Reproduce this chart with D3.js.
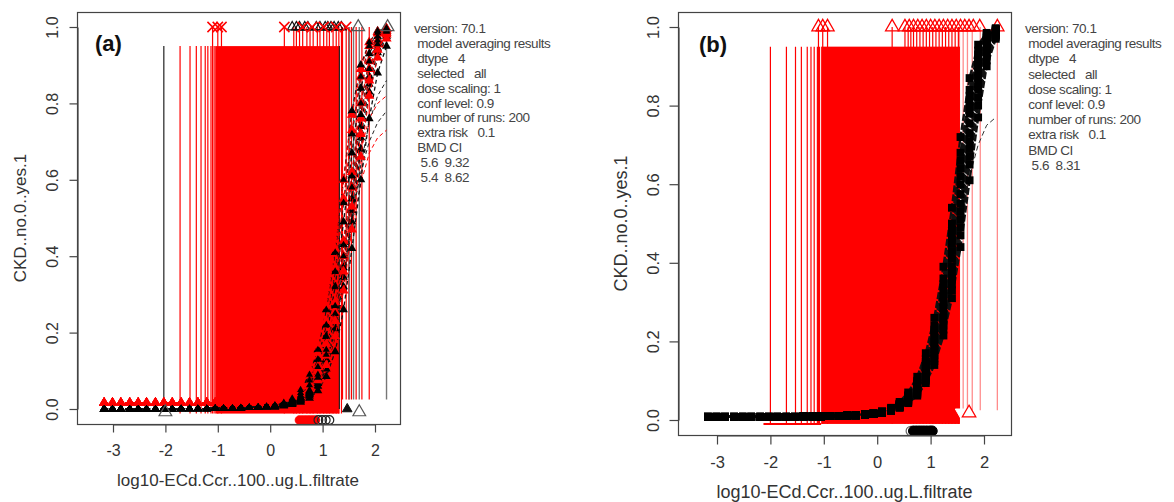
<!DOCTYPE html>
<html><head><meta charset="utf-8">
<script src="https://cdn.jsdelivr.net/npm/d3@7"></script>
<style>body{margin:0;background:#fff} svg{display:block}</style>
</head><body>
<svg id="c" width="1174" height="502"></svg>
<script>
// ---------- shared data ----------
const doseGrid = [-3.17,-3.01,-2.85,-2.68,-2.52,-2.36,-2.19,-2.03,-1.87,-1.70,-1.54,-1.38,-1.21,-1.05,-0.89,-0.72,-0.56,-0.40,-0.23,-0.07,0.09,0.26,0.42,0.58,0.75,0.91,1.07,1.24,1.40,1.56,1.73,1.89,2.05,2.22];
const xTicks = [-3,-2,-1,0,1,2];
const yTicks = [0,0.2,0.4,0.6,0.8,1.0];
const yTickLabels = ["0.0","0.2","0.4","0.6","0.8","1.0"];
const xTitle = "log10-ECd.Ccr..100..ug.L.filtrate";
const yTitle = "CKD..no.0..yes.1";
const panelLabels = ["(a)","(b)"];
const infoA = ["version: 70.1"," model averaging results"," dtype   4"," selected   all"," dose scaling: 1"," conf level: 0.9"," number of runs: 200"," extra risk   0.1"," BMD CI","  5.6  9.32","  5.4  8.62"];
const infoB = ["version: 70.1"," model averaging results"," dtype   4"," selected   all"," dose scaling: 1"," conf level: 0.9"," number of runs: 200"," extra risk   0.1"," BMD CI","  5.6  8.31"];

// ---------- panel (a) data ----------
const barRangeA = [-0.012, 0.95];
const sparseRedA = [-1.72,-1.53,-1.41,-1.32,-1.24,-1.19,-1.13,-1.07];
const denseRedA = [-1.05, 1.32];
const tallRedA = [-1.1,-1.0,-0.93,0.27,0.45,0.5,0.56,0.62,0.7,0.76,0.82,0.9,0.95,1.02,1.08,1.13,1.2,1.26,1.31,1.36];
const rightRedA = [1.38,1.45,1.5,1.55,1.64,1.75,1.89];
const blackLinesA = [-2.03, 1.32];
const grayLinesA = [1.51,1.59,1.70,2.22];
const topRedXA = [-1.1,-1.0,-0.93,0.27,0.62,0.8,1.02,1.26,1.45];
const topBlackA = [0.42,0.5,0.56,0.66,0.72,0.88,0.95,1.05,1.1,1.16,1.22,1.3,1.36];
const topGrayTriA = [1.68,2.24];
const bmdRedA = [0.56,0.62,0.68,0.74,0.8,0.86];
const bmdBlackA = [0.92,0.99,1.06,1.13];
const lowGrayTriA = [-2.0,1.70];
const lowBlackTriA = [1.47];
const lowDoseBlackA = [0,0,0,0,0,0,0,0,0,0.001,0.001,0.001,0.001,0.002,0.002,0.002,0.003,0.004,0.005,0.006];
const lowDoseRedA = [0.016,0.016,0.016,0.016,0.016,0.016,0.016,0.016,0.016,0.016,0.016,0.016,0.016,0.016,0.017,0.017,0.018,0.019,0.02,0.022];
const blackRunsA = [
  [0.01,0.017,0.028,0.05,0.09,0.155,0.26,0.41,0.6,0.78,0.9,0.96,0.99,0.997],
  [0.009,0.015,0.024,0.042,0.075,0.13,0.22,0.36,0.54,0.72,0.87,0.95,0.985,0.995],
  [0.008,0.013,0.021,0.036,0.062,0.11,0.19,0.32,0.49,0.67,0.84,0.93,0.975,0.993],
  [0.008,0.012,0.018,0.03,0.05,0.09,0.155,0.27,0.43,0.61,0.80,0.91,0.965,0.99],
  [0.0075,0.0115,0.017,0.0275,0.046,0.082,0.142,0.25,0.4,0.58,0.77,0.89,0.955,0.988],
  [0.007,0.011,0.016,0.025,0.042,0.075,0.13,0.23,0.37,0.55,0.74,0.87,0.945,0.985],
  [0.0065,0.0105,0.015,0.023,0.038,0.067,0.117,0.21,0.345,0.52,0.71,0.85,0.933,0.98],
  [0.006,0.01,0.014,0.021,0.034,0.06,0.105,0.19,0.32,0.49,0.68,0.83,0.92,0.975],
  [0.005,0.008,0.012,0.018,0.028,0.048,0.085,0.15,0.26,0.42,0.6,0.76,0.88,0.95]
];
const redRunsA = [
  [0.027,0.034,0.046,0.068,0.105,0.17,0.27,0.42,0.6,0.77,0.89,0.96,0.987,0.996],
  [0.026,0.032,0.042,0.06,0.09,0.145,0.23,0.37,0.55,0.73,0.87,0.95,0.983,0.995],
  [0.025,0.03,0.037,0.05,0.07,0.11,0.17,0.28,0.44,0.62,0.8,0.91,0.965,0.99],
  [0.024,0.029,0.036,0.047,0.065,0.1,0.155,0.255,0.4,0.58,0.76,0.89,0.955,0.985],
  [0.024,0.028,0.034,0.044,0.06,0.09,0.14,0.23,0.36,0.53,0.72,0.86,0.94,0.98],
  [0.023,0.027,0.032,0.04,0.052,0.075,0.115,0.19,0.31,0.47,0.66,0.82,0.92,0.97]
];
const plateauRedA = [
  [0.024,0.03,0.038,0.05,0.07,0.1,0.15,0.23,0.34,0.47,0.59,0.67,0.71,0.73],
  [0.024,0.03,0.04,0.055,0.08,0.12,0.18,0.28,0.41,0.55,0.68,0.76,0.8,0.82]
];
const plateauBlackA = [
  [0.006,0.01,0.016,0.026,0.045,0.08,0.14,0.24,0.37,0.5,0.62,0.7,0.75,0.78],
  [0.006,0.01,0.015,0.024,0.04,0.07,0.12,0.21,0.34,0.49,0.64,0.75,0.82,0.86]
];

// ---------- panel (b) data ----------
const barRangeB = [-0.01, 0.95];
const baseRedB = [-2.13, -1.05];
const sparseRedB = [-2.0,-1.7,-1.53,-1.42,-1.31,-1.24,-1.18,-1.12,-1.08];
const denseRedB = [-1.05, 1.55];
const tallRedB = [-1.1,-1.02,-0.93,0.28,0.52,0.58,0.63,0.68,0.74,0.8,0.86,0.92,0.98,1.04,1.1,1.16,1.22,1.28,1.34,1.4,1.46,1.52];
const topTriB = [-1.1,-1.02,-0.93,0.28,0.52,0.6,0.68,0.76,0.84,0.92,1.0,1.08,1.16,1.24,1.32,1.4,1.48,1.56,1.64,1.72,1.8,1.92,2.25];
const pinkLinesB = [1.54,1.61,1.69,1.78,1.93,2.25];
const bmdBlackB = [0.68,0.74,0.8,0.86,0.92,0.98,1.03];
const bmdGrayB = [0.63];
const lowWhiteTriB = [1.59];
const lowRedTriB = [1.72];
const lowDoseB = [0.008,0.008,0.008,0.008,0.008,0.008,0.008,0.008,0.008,0.008,0.008,0.009,0.009,0.009,0.010,0.010,0.011,0.012,0.014,0.016];
const blackRunsB = [
  [0.022,0.031,0.046,0.07,0.11,0.17,0.26,0.39,0.54,0.72,0.87,0.955,0.985,0.997],
  [0.021,0.029,0.042,0.063,0.1,0.155,0.24,0.36,0.5,0.68,0.84,0.94,0.98,0.995],
  [0.021,0.0285,0.041,0.061,0.096,0.148,0.23,0.345,0.483,0.66,0.825,0.93,0.976,0.994],
  [0.021,0.028,0.04,0.059,0.092,0.142,0.22,0.33,0.465,0.64,0.81,0.92,0.972,0.993],
  [0.02,0.027,0.039,0.057,0.088,0.136,0.21,0.315,0.45,0.62,0.795,0.91,0.968,0.991],
  [0.02,0.027,0.038,0.055,0.085,0.13,0.2,0.3,0.43,0.6,0.78,0.9,0.965,0.99],
  [0.019,0.026,0.037,0.053,0.081,0.125,0.19,0.285,0.41,0.575,0.755,0.885,0.957,0.988],
  [0.019,0.026,0.036,0.051,0.078,0.12,0.18,0.27,0.39,0.55,0.73,0.87,0.95,0.985],
  [0.019,0.0255,0.035,0.0495,0.075,0.115,0.172,0.26,0.375,0.53,0.71,0.855,0.942,0.983],
  [0.019,0.025,0.034,0.048,0.072,0.11,0.165,0.25,0.36,0.51,0.69,0.84,0.935,0.98],
  [0.0185,0.0245,0.033,0.0465,0.069,0.105,0.157,0.24,0.345,0.49,0.67,0.82,0.925,0.978],
  [0.018,0.024,0.032,0.045,0.066,0.1,0.15,0.23,0.33,0.47,0.65,0.8,0.915,0.975],
  [0.018,0.023,0.031,0.043,0.062,0.094,0.14,0.215,0.31,0.44,0.61,0.77,0.9,0.97]
];
const plateauB = [
  [0.02,0.027,0.037,0.053,0.08,0.12,0.18,0.27,0.38,0.5,0.62,0.7,0.75,0.77]
];

// ---------- drawing ----------
const svg = d3.select("#c");
const RED = "#ff0000";
const symTimes = d3.symbolTimes || d3.symbolX || d3.symbolCross;

function toPts(low, run) {
  const ys = low.concat(run);
  return doseGrid.map((d, i) => [d, ys[i]]);
}

function drawPanel(cfg, idx) {
  const x = d3.scaleLinear().domain([-3, 2]).range(cfg.xr);
  const y = d3.scaleLinear().domain([0, 1]).range(cfg.yr);
  const g = svg.append("g");
  const clipId = "clip" + idx;
  svg.append("clipPath").attr("id", clipId).append("rect")
    .attr("x", cfg.box[0]).attr("y", cfg.box[1])
    .attr("width", cfg.box[2] - cfg.box[0]).attr("height", cfg.box[3] - cfg.box[1]);
  const p = g.append("g").attr("clip-path", `url(#${clipId})`);

  const vlines = (xs, y0, y1, color, w, op) => {
    p.append("g").selectAll("line").data(xs).join("line")
      .attr("x1", d => x(d)).attr("x2", d => x(d))
      .attr("y1", y(y0)).attr("y2", y(y1))
      .attr("stroke", color).attr("stroke-width", w || 1)
      .attr("stroke-opacity", op == null ? 1 : op);
  };
  const symbols = (xs, yv, type, size, fill, stroke, sw, rot) => {
    p.append("g").selectAll("path").data(xs).join("path")
      .attr("d", d3.symbol().type(type).size(size))
      .attr("transform", d => `translate(${x(d)},${y(yv)})` + (rot ? ` rotate(${rot})` : ""))
      .attr("fill", fill).attr("stroke", stroke).attr("stroke-width", sw || 1);
  };
  const line = d3.line().x(d => x(d[0])).y(d => y(d[1]));
  const curves = (runs, low, color, dash, w) => {
    p.append("g").selectAll("path").data(runs).join("path")
      .attr("d", r => line(toPts(low, r)))
      .attr("fill", "none").attr("stroke", color).attr("stroke-width", w || 1)
      .attr("stroke-dasharray", dash);
  };
  const runMarkers = (runs, low, type, size, fill) => {
    runs.forEach(r => {
      p.append("g").selectAll("path").data(toPts(low, r)).join("path")
        .attr("d", d3.symbol().type(type).size(size))
        .attr("transform", d => `translate(${x(d[0])},${y(d[1])})`)
        .attr("fill", fill);
    });
  };

  cfg.drawMarks({x, y, p, vlines, symbols, curves, runMarkers});

  // box
  g.append("rect").attr("x", cfg.box[0] + 0.5).attr("y", cfg.box[1] + 0.5)
    .attr("width", cfg.box[2] - cfg.box[0]).attr("height", cfg.box[3] - cfg.box[1])
    .attr("fill", "none").attr("stroke", "#444").attr("stroke-width", 1.2);

  // x axis
  const xa = g.append("g").attr("transform", `translate(0,${cfg.box[3] + 0.5})`)
    .call(d3.axisBottom(x).tickValues(xTicks).tickSize(cfg.tick).tickSizeOuter(0).tickFormat(d => String(d)));
  xa.select(".domain").attr("stroke", "#444").attr("stroke-width", 1.2);
  xa.selectAll(".tick line").attr("stroke", "#444").attr("stroke-width", 1.2);
  xa.selectAll(".tick text").attr("y", cfg.xLabOff).attr("dy", "0.35em")
    .attr("font-family", "Liberation Sans, Arial, sans-serif").attr("font-size", cfg.tickFont).attr("fill", "#333");

  // y axis
  const ya = g.append("g").attr("transform", `translate(${cfg.box[0] + 0.5},0)`)
    .call(d3.axisLeft(y).tickValues(yTicks).tickSize(cfg.tick).tickSizeOuter(0).tickFormat((d, i) => yTickLabels[i]));
  ya.select(".domain").attr("stroke", "#444").attr("stroke-width", 1.2);
  ya.selectAll(".tick line").attr("stroke", "#444").attr("stroke-width", 1.2);
  ya.selectAll(".tick text").attr("x", null).attr("dy", null)
    .attr("transform", `translate(${cfg.yLabOff},0) rotate(-90)`)
    .attr("text-anchor", "middle").attr("dominant-baseline", "central")
    .attr("font-family", "Liberation Sans, Arial, sans-serif").attr("font-size", cfg.tickFont).attr("fill", "#333");

  // titles
  g.append("text").attr("x", (x(-3) + x(2)) / 2 + cfg.xTitleShift).attr("y", cfg.xTitleY)
    .attr("text-anchor", "middle").attr("dominant-baseline", "central")
    .attr("font-family", "Liberation Sans, Arial, sans-serif").attr("font-size", cfg.titleFont).attr("fill", "#333")
    .text(xTitle);
  g.append("text").attr("transform", `translate(${cfg.yTitleX},${(cfg.box[1] + cfg.box[3]) / 2}) rotate(-90)`)
    .attr("text-anchor", "middle").attr("dominant-baseline", "central")
    .attr("font-family", "Liberation Sans, Arial, sans-serif").attr("font-size", cfg.titleFont).attr("fill", "#333")
    .text(yTitle);

  // panel label
  g.append("text").attr("x", cfg.labelPos[0]).attr("y", cfg.labelPos[1])
    .attr("font-family", "Liberation Sans, Arial, sans-serif").attr("font-weight", "bold")
    .attr("font-size", 22).attr("fill", "#111").text(panelLabels[idx]);

  // info text
  g.append("g").selectAll("text").data(cfg.info).join("text")
    .attr("x", cfg.infoX).attr("y", (d, i) => cfg.infoY + i * cfg.infoStep)
    .attr("font-family", "Liberation Sans, Arial, sans-serif").attr("font-size", 13.5)
    .attr("letter-spacing", "-0.45px").attr("fill", "#444")
    .style("white-space", "pre").text(d => d);
}

// panel (a)
drawPanel({
  box: [77, 12, 400, 424], xr: [113, 375], yr: [409, 27], tick: 8,
  xLabOff: 26, yLabOff: -25, tickFont: 16, titleFont: 17, xTitleY: 480, xTitleShift: -6, yTitleX: 20,
  labelPos: [95, 51], info: infoA, infoX: 414, infoY: 33, infoStep: 14.9,
  drawMarks: ({x, y, p, vlines, symbols, curves, runMarkers}) => {
    vlines(sparseRedA, barRangeA[0], barRangeA[1], RED, 1.2);
    p.append("rect").attr("x", x(denseRedA[0])).attr("y", y(barRangeA[1]))
      .attr("width", x(denseRedA[1]) - x(denseRedA[0])).attr("height", y(barRangeA[0]) - y(barRangeA[1]))
      .attr("fill", RED);
    vlines(tallRedA, barRangeA[0], 1.0, RED, 1.2);
    vlines(rightRedA, 0.025, 1.0, RED, 1.2);
    vlines(blackLinesA, 0.0, 0.95, "#222", 1.2);
    vlines(grayLinesA, 0.025, 1.0, "#777", 1.4);
    curves(plateauRedA, lowDoseRedA, RED, "4,3", 1);
    curves(plateauBlackA, lowDoseBlackA, "#222", "4,3", 1);
    curves(blackRunsA, lowDoseBlackA, "#111", "4,3", 1.3);
    runMarkers(blackRunsA, lowDoseBlackA, d3.symbolTriangle, 34, "#000");
    curves(redRunsA, lowDoseRedA, RED, "4,3", 1);
    runMarkers(redRunsA, lowDoseRedA, d3.symbolTriangle, 45, RED);
    runMarkers(blackRunsA.slice(0, 5), lowDoseBlackA, d3.symbolTriangle, 22, "#000");
    symbols(topBlackA, 1.0, d3.symbolTriangle, 40, "none", "#111", 1.2);
    symbols(topRedXA, 1.0, symTimes, 70, "none", RED, 1.5);
    symbols(topGrayTriA, 1.0, d3.symbolTriangle, 70, "none", "#555", 1.2);
    symbols(lowGrayTriA, -0.008, d3.symbolTriangle, 70, "none", "#555", 1.2);
    symbols(lowBlackTriA, 0.0, d3.symbolTriangle, 40, "#111", "#111", 1);
    symbols(bmdRedA, -0.029, d3.symbolCircle, 60, RED, RED, 1);
    symbols(bmdBlackA, -0.029, d3.symbolCircle, 60, "none", "#222", 1.2);
  }
}, 0);

// panel (b)
drawPanel({
  box: [678, 12, 1011, 435], xr: [717, 984], yr: [420, 27], tick: 9,
  xLabOff: 27, yLabOff: -26, tickFont: 16.5, titleFont: 18, xTitleY: 492, xTitleShift: -6, yTitleX: 621,
  labelPos: [699, 52], info: infoB, infoX: 1025, infoY: 33, infoStep: 15.2,
  drawMarks: ({x, y, p, vlines, symbols, curves, runMarkers}) => {
    p.append("line").attr("x1", x(baseRedB[0])).attr("x2", x(baseRedB[1]))
      .attr("y1", y(barRangeB[0])).attr("y2", y(barRangeB[0])).attr("stroke", RED).attr("stroke-width", 2);
    vlines(sparseRedB, barRangeB[0], barRangeB[1], RED, 1.2);
    p.append("rect").attr("x", x(denseRedB[0])).attr("y", y(barRangeB[1]))
      .attr("width", x(denseRedB[1]) - x(denseRedB[0])).attr("height", y(barRangeB[0]) - y(barRangeB[1]))
      .attr("fill", RED);
    vlines(tallRedB, barRangeB[0], 1.0, RED, 1.2);
    vlines(pinkLinesB, 0.025, 1.0, RED, 1.3, 0.45);
    symbols(topTriB, 1.0, d3.symbolTriangle, 75, "none", RED, 1.3);
    curves(plateauB, lowDoseB, "#333", "5,3", 1);
    curves(blackRunsB, lowDoseB, "#111", "7,2", 2.4);
    runMarkers(blackRunsB, lowDoseB, d3.symbolSquare, 62, "#000");
    symbols(lowWhiteTriB, 0.018, d3.symbolTriangle, 80, "#fff", "#fff", 1, 180);
    symbols(lowRedTriB, 0.018, d3.symbolTriangle, 80, "none", RED, 1.2);
    symbols(bmdGrayB, -0.028, d3.symbolCircle, 70, "none", "#666", 1.2);
    symbols(bmdBlackB, -0.028, d3.symbolCircle, 80, "#000", "#000", 1);
  }
}, 1);
</script>
</body></html>
